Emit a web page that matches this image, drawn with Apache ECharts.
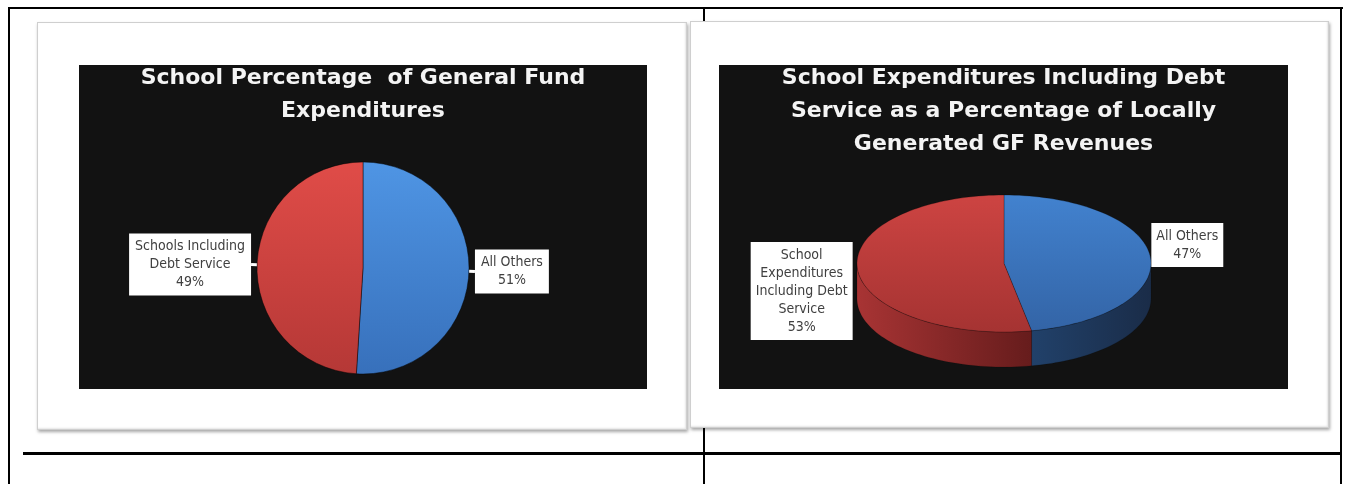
<!DOCTYPE html>
<html><head><meta charset="utf-8">
<script src="https://cdn.jsdelivr.net/npm/echarts@6/dist/echarts.min.js"></script>
<style>
html,body{margin:0;padding:0;background:#fff;width:1348px;height:484px;overflow:hidden;position:relative;}
.ln{position:absolute;background:#000;}
.frame{position:absolute;background:#fff;border:1px solid #cfcfcf;box-shadow:1px 2px 3px rgba(0,0,0,0.35), inset -1px -1px 2px rgba(0,0,0,0.10);}
.chart{position:absolute;}
</style></head><body>
<div class="ln" style="left:8px;top:7px;width:1335px;height:2px"></div>
<div class="ln" style="left:8px;top:7px;width:2px;height:477px"></div>
<div class="ln" style="left:1340px;top:7px;width:2px;height:477px"></div>
<div class="ln" style="left:703px;top:7px;width:2px;height:477px"></div>
<div class="ln" style="left:23px;top:452px;width:1319px;height:3px"></div>
<div class="frame" style="left:37px;top:22px;width:648px;height:406px"></div>
<div class="frame" style="left:690px;top:21px;width:637px;height:405px"></div>
<div id="c1" class="chart" style="left:79px;top:65px;width:568px;height:324px"></div>
<div id="c2" class="chart" style="left:719px;top:65px;width:569px;height:324px"></div>
<script>
// ---- data ----
const chart1Title = 'School Percentage  of General Fund\nExpenditures';
const pie1Categories = ['All Others', 'Schools Including\nDebt Service'];
const pie1Values = [51, 49];

const chart2Title = 'School Expenditures Including Debt\nService as a Percentage of Locally\nGenerated GF Revenues';
const pie2Categories = ['All Others', 'School\nExpenditures\nIncluding Debt\nService'];
const pie2Values = [47, 53];

// ---- styles ----
const LABEL_FONT = "'Liberation Sans Narrow','DejaVu Sans Condensed','Roboto Condensed',Roboto,sans-serif";
const TITLE_FONT = "'DejaVu Sans',sans-serif";
const LABEL_SIZE = 14;
const labelRich = { c: { align: 'center', fontFamily: LABEL_FONT, fontSize: LABEL_SIZE, lineHeight: 18, color: '#404040' } };
function richLabel(name, pct) {
  return name.split('\n').concat([pct + '%']).map(s => '{c|' + s + '}').join('\n');
}
function grad(x2, y2, c0, c1) {
  return { type: 'linear', x: 0, y: 0, x2: x2, y2: y2, colorStops: [{ offset: 0, color: c0 }, { offset: 1, color: c1 }] };
}
const titleStyle = { color: '#f4f4f4', fontFamily: TITLE_FONT, fontWeight: 'bold', fontSize: 22, lineHeight: 33 };

// ---- chart 1 ----
const c1 = echarts.init(document.getElementById('c1'), null, { renderer: 'canvas' });
const pie1Colors = [grad(0, 1, '#4f95e4', '#3770bb'), grad(0, 1, '#e04c48', '#b53836')];
c1.setOption({
  animation: false,
  backgroundColor: '#121212',
  title: { text: chart1Title, left: 'center', top: -3, padding: 0, textStyle: titleStyle },
  series: [{
    type: 'pie', silent: true,
    center: [284, 203], radius: 106,
    startAngle: 90, clockwise: true,
    avoidLabelOverlap: false,
    itemStyle: { borderColor: 'rgba(0,0,0,0.45)', borderWidth: 1 },
    label: {
      show: true, position: 'outside', distanceToLabelLine: 0,
      backgroundColor: '#ffffff', padding: [4, 6],
      formatter: p => richLabel(p.name, Math.round(p.percent)),
      rich: labelRich
    },
    labelLine: { show: true, length: 6, length2: 0, smooth: false, lineStyle: { color: '#ffffff', width: 3 } },
    data: pie1Categories.map((n, i) => ({ name: n, value: pie1Values[i], itemStyle: { color: pie1Colors[i] } }))
  }]
});

// ---- chart 2 (3D pie via custom series) ----
const c2 = echarts.init(document.getElementById('c2'), null, { renderer: 'canvas' });
const P2 = { cx: 285, cy: 198.5, rx: 147, ry: 68.5, depth: 35 };
const pie2Top = [grad(0, 1, '#4282cf', '#3364a6'), grad(0, 1, '#cd4442', '#a53332')];
const pie2Side = [grad(1, 0, '#21416a', '#1a2c48'), grad(1, 0, '#a83434', '#661c1c')];
const labelDy = [-12, 21];
const labelDx = [1, -5];
function pt(theta, dz) {
  const r = theta * Math.PI / 180;
  return [P2.cx + P2.rx * Math.sin(r), P2.cy - P2.ry * Math.cos(r) + (dz || 0)];
}
function arc(a0, a1, dz) {
  const pts = [];
  const n = Math.max(2, Math.ceil(Math.abs(a1 - a0) / 2));
  for (let k = 0; k <= n; k++) pts.push(pt(a0 + (a1 - a0) * k / n, dz));
  return pts;
}
function renderItem(params, api) {
  const i = params.dataIndex;
  const total = pie2Values.reduce((a, b) => a + b, 0);
  let before = 0;
  for (let k = 0; k < i; k++) before += pie2Values[k];
  const a0 = before / total * 360;
  const a1 = (before + api.value(0)) / total * 360;
  const children = [];
  const s = Math.max(a0, 90), e = Math.min(a1, 270);
  if (e > s) {
    const side = arc(s, e, 0).concat(arc(e, s, P2.depth));
    children.push({ type: 'polygon', z2: 1, shape: { points: side }, style: { fill: pie2Side[i], stroke: 'rgba(0,0,0,0.25)', lineWidth: 0.5 } });
  }
  const top = [[P2.cx, P2.cy]].concat(arc(a0, a1, 0));
  children.push({ type: 'polygon', z2: 2, shape: { points: top }, style: { fill: pie2Top[i], stroke: 'rgba(0,0,0,0.35)', lineWidth: 0.7 } });
  const mid = (a0 + a1) / 2;
  const anchor = pt(mid, 0);
  const right = Math.sin(mid * Math.PI / 180) >= 0;
  children.push({
    type: 'text', z2: 5,
    style: {
      text: richLabel(pie2Categories[i], Math.round(api.value(0) / total * 100)),
      x: anchor[0] + labelDx[i], y: anchor[1] + labelDy[i],
      align: right ? 'left' : 'right', verticalAlign: 'middle',
      backgroundColor: '#ffffff', padding: [4, 5],
      fontFamily: LABEL_FONT, fontSize: LABEL_SIZE, lineHeight: 18, fill: '#404040',
      rich: { c: { align: 'center', fontFamily: LABEL_FONT, fontSize: LABEL_SIZE, lineHeight: 18, fill: '#404040' } }
    }
  });
  return { type: 'group', children: children };
}
c2.setOption({
  animation: false,
  backgroundColor: '#121212',
  title: { text: chart2Title, left: 'center', top: -3, padding: 0, textStyle: titleStyle },
  series: [{
    type: 'custom', coordinateSystem: 'none', silent: true,
    renderItem: renderItem,
    data: pie2Values.map((v, i) => ({ name: pie2Categories[i], value: [v] }))
  }]
});
</script>
</body></html>
